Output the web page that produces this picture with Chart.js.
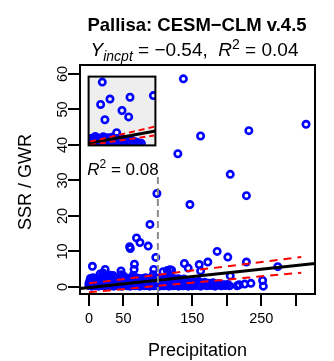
<!DOCTYPE html>
<html>
<head>
<meta charset="utf-8">
<script src="https://cdn.jsdelivr.net/npm/chart.js@4.4.1/dist/chart.umd.min.js"></script>
<style>
html,body{margin:0;padding:0;background:#fff;}
#wrap{position:relative;width:334px;height:361px;}
#main{position:absolute;left:0;top:0;}
#inset{position:absolute;left:82px;top:70px;}
</style>
</head>
<body>
<div id="wrap">
<canvas id="main" width="334" height="361"></canvas>
<canvas id="inset" width="80" height="82"></canvas>
</div>
<script>
// ======================================
// DATA
// ======================================

// scattered points above the main cloud
const outlierPrecip = [137, 162, 232, 315, 129, 205, 98.6, 146.5, 228.5, 88.5,
    69, 74, 59, 60, 86, 186, 201.5, 97, 5, 66,
    65.5, 23.5, 46.5, 138.5, 144, 160, 172.5, 228.5, 94, 113.5,
    120, 16, 20.5, 31, 35, 47, 50, 64, 93, 107.5,
    117.5, 162, 205, 274, 252, 253, 235, 226, 218, 215];
const outlierSsr = [58.6, 42.5, 44, 45.8, 37.5, 31.7, 26.3, 23.2, 25.7, 17.6,
    13.8, 12.5, 11.3, 10.8, 11.5, 10, 8.4, 8.3, 5.8, 6.4,
    4.9, 4.9, 4.5, 6.6, 5.3, 6.3, 7, 7, 4.9, 4.6,
    4.7, 3.6, 3.9, 3.3, 3.2, 3.4, 3.1, 3.2, 3.4, 4.3,
    4.8, 4.5, 3.1, 5.7, 1.8, 0.2, 1.0, 0.8, 0.6, 0.3];

// dense cloud near zero, band 1 (lowest)
const lowPrecip = [0,2,4,6,8,10,12,14,16,18, 20,22,24,26,28,30,32,34,36,38,
    40,42,44,46,48,50,52,54,56,58, 60,62,64,66,68,70,72,74,76,78,
    80,82,84,86,88,90,92,94,96,98, 100,102,104,106,108,110,112,114,116,118,
    120,122,124,126,128,130,132,134,136,138, 140,142,144,146,148,150,153,156,159,162,
    165,168,171,174,177,180,183,186,189,192, 195,198,201,204];
const lowSsr = [0.4,0.7,0.2,0.6,0.3,0.8,0.5,0.2,0.7,0.4,
    0.6,0.3,0.8,0.2,0.5,0.7,0.3,0.6,0.2,0.8,
    0.4,0.7,0.3,0.5,0.2,0.8,0.4,0.6,0.3,0.7,
    0.2,0.5,0.8,0.3,0.6,0.4,0.7,0.2,0.5,0.8,
    0.3,0.6,0.4,0.7,0.2,0.5,0.8,0.3,0.6,0.4,
    0.7,0.2,0.5,0.8,0.3,0.6,0.4,0.7,0.2,0.5,
    0.8,0.3,0.6,0.4,0.7,0.2,0.5,0.8,0.3,0.6,
    0.4,0.7,0.2,0.5,0.8,0.3,0.6,0.4,0.7,0.2,
    0.5,0.8,0.3,0.6,0.4,0.7,0.2,0.5,0.8,0.3,
    0.6,0.4,0.7,0.3];

// band 2
const bandPrecip = [0,2.5,5,7.5,10,12.5,15,17.5,20,22.5, 25,27.5,30,32.5,35,37.5,40,42.5,45,47.5,
    50,52.5,55,57.5,60,62.5,65,67.5,70,72.5, 75,77.5,80,82.5,85,87.5,90,92.5,95,97.5,
    100,102.5,105,107.5,110,112.5,115,117.5,120,122.5, 125,127.5,130,132.5,135,137.5,140,142.5,145,147.5,
    150,154,158,162,166,170,175,180,185,190, 196];
const bandSsr = [1.0,0.8,1.1,0.9,1.0,0.8,1.1,0.9,1.0,1.1, 0.8,1.0,0.9,1.1,0.8,1.0,0.9,1.1,1.0,0.8,
    0.9,1.1,1.0,0.8,0.9,1.0,1.1,0.8,1.0,0.9, 1.1,0.8,1.0,0.9,1.1,1.0,0.8,0.9,1.1,1.0,
    0.8,0.9,1.0,1.1,0.8,1.0,0.9,1.1,0.8,1.0, 0.9,1.1,1.0,0.8,0.9,1.0,1.1,0.8,0.9,1.0,
    0.9,0.8,1.0,0.7,0.9,0.8,0.7,0.8,0.6,0.7, 0.5];

// band 3
const midPrecip = [1,4,7,10,13,16,19,22,25,28, 31,34,37,40,43,46,49,52,55,58,
    61,64,67,70,73,76,79,82,85,88, 91,94,97,100,103,106,109,112,115,118,
    121,124,127,130,133,136,139,142,145,148, 151,155,159,163,168,174,180,187];
const midSsr = [1.6,1.3,1.9,1.4,1.8,1.2,1.7,2.0,1.5,1.3,
    1.9,1.6,1.2,1.8,1.4,2.0,1.5,1.7,1.3,1.9,
    1.6,1.2,1.8,1.5,2.0,1.4,1.7,1.3,1.9,1.6,
    1.2,1.8,1.5,1.9,1.4,1.7,1.3,2.0,1.6,1.2,
    1.8,1.5,1.9,1.4,1.7,1.3,1.8,1.5,1.6,1.2,
    1.5,1.3,1.6,1.1,1.3,1.0,1.2,0.9];

// band 4 (top of the cloud)
const topPrecip = [2,6,10,14,18,22,26,30,34,38, 42,46,50,54,58,62,66,70,74,78,
    82,86,90,94,98,102,106,110,114,118, 122,126,130,134,138];
const topSsr = [2.4,2.6,2.3,2.5,2.7,2.4,2.3,2.6,2.5,2.4, 2.3,2.6,2.4,2.5,2.3,2.6,2.4,2.5,2.3,2.4,
    2.6,2.3,2.5,2.4,2.3,2.5,2.4,2.3,2.5,2.2, 2.4,2.2,2.3,2.1,2.2];

// fit + confidence band
const fitX = [-13, 328];
const fitY = [-0.42, 6.57];
const ciX = [0, 308];
const ciUpper = [1.0, 8.4];
const ciLower = [-1.5, 4.0];

// grey dashed cut at precipitation = 100
const cutX = [100, 100];
const cutY = [-2, 31];

// axes
const xTicks = [0, 50, 100, 150, 200, 250, 300];
const xTickLabels = ["0", "50", "", "150", "", "250", ""];
const yTicks = [0, 10, 20, 30, 40, 50, 60];
const yTickLabels = ["0", "10", "20", "30", "40", "50", "60"];

// inset (own units)
const insetOutX = [20.5, 32, 62, 97, 18, 50, 60, 24.4, 42, 72];
const insetOutY = [92, 67.4, 70, 72.4, 59.5, 50.7, 41.4, 37.3, 18.4, 3.4];
const insetLowX = [0,3,6,9,12,15,18,21,24,27,30,33,36,39,42,45,48,51,54,57,60,63,66,69,75,79];
const insetLowY = [4,3,5,3.5,4.5,3,5,4,3.5,5,3,4.5,4,3,5,3.5,4,3,4.5,3.5,3,4,3.5,3,3.5,3];
const insetBandX = [1,4,7,10,13,16,19,22,25,28,31,34,37,40,43,46,49,52,55,58,61,64,67,71];
const insetBandY = [7,6.5,7.5,6,7,6.5,7.5,6,7,6.5,7,6,7.5,6.5,7,6,6.5,7,6,6.5,6,5.5,6,5];
const insetMidX = [1,5,9,13,17,21,25,29,33,37,41,45,49,53,57,10,22,35,48,65];
const insetMidY = [9,10.5,8.5,11,9.5,10,8,11,9.5,8.5,10,9,8,8.5,7.5,13,12.5,12,11,7];
const insetFitX = [0, 100];
const insetFitY = [3, 21];
const insetCiX = [2, 98];
const insetCiUpper = [5.5, 27];
const insetCiLower = [0.5, 14.5];

// ======================================
// HELPERS
// ======================================

const FONT = "'Liberation Sans', Arial, sans-serif";

function pairs(xs, ys){
    return xs.map((x, i) => ({ x: x, y: ys[i] }));
}

function points(xs, ys, order){
    return {
        data: pairs(xs, ys),
        borderColor: "#0000ff",
        backgroundColor: "rgba(0,0,0,0)",
        pointRadius: 3.2,
        pointBorderWidth: 2.6,
        borderWidth: 2.6,
        order: order
    };
}

function line(xs, ys, color, width, dash, order){
    return {
        type: "line",
        data: pairs(xs, ys),
        borderColor: color,
        borderWidth: width,
        borderDash: dash,
        pointRadius: 0,
        fill: false,
        tension: 0,
        order: order
    };
}

// draws a row of text pieces (plotmath style) centred on cx
function drawRich(ctx, parts, cx, baseline){
    let total = 0;
    parts.forEach(p => {
        ctx.font = p.font;
        p.w = ctx.measureText(p.t).width + (p.gap || 0);
        total += p.w;
    });
    let xx = cx - total / 2;
    ctx.textAlign = "left";
    parts.forEach(p => {
        ctx.font = p.font;
        ctx.fillText(p.t, xx, baseline + (p.dy || 0));
        xx += p.w;
    });
}

// ======================================
// MAIN FRAME, TICKS, TEXT
// ======================================

const mainFrame = {
    id: "mainFrame",
    afterDraw(chart){
        const ctx = chart.ctx;
        const a = chart.chartArea;
        const sx = chart.scales.x;
        const sy = chart.scales.y;

        ctx.save();
        ctx.strokeStyle = "#000";
        ctx.lineWidth = 2;
        ctx.strokeRect(a.left, a.top, a.right - a.left, a.bottom - a.top);

        ctx.beginPath();
        xTicks.forEach(v => {
            const px = Math.round(sx.getPixelForValue(v));
            ctx.moveTo(px, a.bottom + 1);
            ctx.lineTo(px, a.bottom + 12);
        });
        yTicks.forEach(v => {
            const py = Math.round(sy.getPixelForValue(v));
            ctx.moveTo(a.left - 1, py);
            ctx.lineTo(a.left - 12, py);
        });
        ctx.stroke();

        ctx.fillStyle = "#000";
        ctx.font = "14.5px " + FONT;
        ctx.textAlign = "center";
        ctx.textBaseline = "alphabetic";
        xTicks.forEach((v, i) => {
            ctx.fillText(xTickLabels[i], sx.getPixelForValue(v), 323);
        });
        yTicks.forEach((v, i) => {
            ctx.save();
            ctx.translate(67, sy.getPixelForValue(v));
            ctx.rotate(-Math.PI / 2);
            ctx.fillText(yTickLabels[i], 0, 0);
            ctx.restore();
        });

        // axis titles
        ctx.font = "18px " + FONT;
        ctx.fillText("Precipitation", (a.left + a.right) / 2, 356);
        ctx.save();
        ctx.translate(31, 182);
        ctx.rotate(-Math.PI / 2);
        ctx.fillText("SSR / GWR", 0, 0);
        ctx.restore();

        // title
        ctx.font = "bold 18.5px " + FONT;
        ctx.fillText("Pallisa: CESM\u2212CLM v.4.5", 197, 31);

        drawRich(ctx, [
            { t: "Y", font: "italic 19px " + FONT },
            { t: "incpt", font: "italic 14px " + FONT, dy: 5 },
            { t: " = \u22120.54,  ", font: "19px " + FONT },
            { t: "R", font: "italic 19px " + FONT },
            { t: "2", font: "14px " + FONT, dy: -7 },
            { t: " = 0.04", font: "19px " + FONT }
        ], 194.5, 56);

        // inset R2
        drawRich(ctx, [
            { t: "R", font: "italic 17px " + FONT },
            { t: "2", font: "12px " + FONT, dy: -7 },
            { t: " = 0.08", font: "17px " + FONT }
        ], 123, 175);

        ctx.restore();
    }
};

new Chart(document.getElementById("main"), {
    type: "scatter",
    data: {
        datasets: [
            line(cutX, cutY, "#8c8c8c", 2, [7, 4], 0),
            line(ciX, ciUpper, "#ff0000", 2, [8, 6], 1),
            line(ciX, ciLower, "#ff0000", 2, [8, 6], 1),
            line(fitX, fitY, "#000000", 3, [], 2),
            points(outlierPrecip, outlierSsr, 3),
            points(lowPrecip, lowSsr, 3),
            points(bandPrecip, bandSsr, 3),
            points(midPrecip, midSsr, 3),
            points(topPrecip, topSsr, 3)
        ]
    },
    options: {
        responsive: false,
        animation: false,
        events: [],
        layout: { padding: { left: 80, right: 19, top: 65, bottom: 67 } },
        plugins: { legend: { display: false }, tooltip: { enabled: false } },
        scales: {
            x: { type: "linear", min: -13, max: 328, display: false },
            y: { type: "linear", min: -2, max: 62.5, display: false }
        }
    },
    plugins: [mainFrame]
});

// ======================================
// INSET
// ======================================

const insetFrame = {
    id: "insetFrame",
    beforeDatasetsDraw(chart){
        const ctx = chart.ctx;
        const a = chart.chartArea;
        ctx.save();
        ctx.fillStyle = "#eeeeee";
        ctx.fillRect(a.left, a.top, a.right - a.left, a.bottom - a.top);
        ctx.restore();
    },
    afterDraw(chart){
        const ctx = chart.ctx;
        const a = chart.chartArea;
        ctx.save();
        ctx.strokeStyle = "#000";
        ctx.lineWidth = 2;
        ctx.strokeRect(a.left, a.top, a.right - a.left, a.bottom - a.top);
        ctx.restore();
    }
};

new Chart(document.getElementById("inset"), {
    type: "scatter",
    data: {
        datasets: [
            line(insetCiX, insetCiUpper, "#ff0000", 2, [6, 4], 0),
            line(insetCiX, insetCiLower, "#ff0000", 2, [6, 4], 0),
            line(insetFitX, insetFitY, "#000000", 3, [], 1),
            points(insetOutX, insetOutY, 2),
            points(insetLowX, insetLowY, 2),
            points(insetBandX, insetBandY, 2),
            points(insetMidX, insetMidY, 2)
        ]
    },
    options: {
        responsive: false,
        animation: false,
        events: [],
        layout: { padding: 1 },
        plugins: { legend: { display: false }, tooltip: { enabled: false } },
        scales: {
            x: { type: "linear", min: 0, max: 100, display: false },
            y: { type: "linear", min: 0, max: 100, display: false }
        }
    },
    plugins: [insetFrame]
});
</script>
</body>
</html>
